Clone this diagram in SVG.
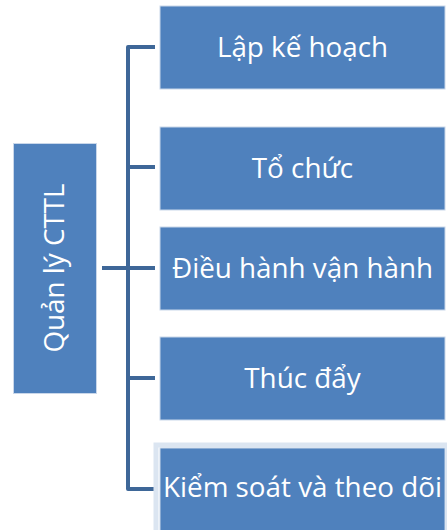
<svg xmlns="http://www.w3.org/2000/svg" width="447" height="530" viewBox="0 0 447 530">
<style>
.box{fill:#4f81bd;stroke:#c9d7ea;stroke-width:1}
.lbl{font-family:"Open Sans","Noto Sans","Liberation Sans",sans-serif;font-size:27.8px;fill:#ffffff;text-anchor:middle}
.con{fill:none;stroke:#3e6798;stroke-width:4;stroke-linejoin:round;stroke-linecap:butt}
</style>
<rect width="447" height="530" fill="#ffffff"/>
<g id="connectors">
<path class="con" d="M155,47 H128 V489 H155"/>
<path class="con" d="M128,167 H155"/>
<path class="con" d="M128,378 H155"/>
<path class="con" d="M102,268 H155"/>
</g>
<g id="root">
<rect class="box" x="13.5" y="143.5" width="83" height="250"/>
<text class="lbl" transform="translate(64,268) rotate(-90)">Quản lý CTTL</text>
</g>
<g id="n1">
<rect class="box" x="160" y="6" width="285" height="83"/>
<text class="lbl" x="302.5" y="57">Lập kế hoạch</text>
</g>
<g id="n2">
<rect class="box" x="160" y="127" width="285" height="83"/>
<text class="lbl" x="302.5" y="178">Tổ chức</text>
</g>
<g id="n3">
<rect class="box" x="160" y="227" width="285" height="83"/>
<text class="lbl" x="302.5" y="278">Điều hành vận hành</text>
</g>
<g id="n4">
<rect class="box" x="160" y="337" width="285" height="83"/>
<text class="lbl" x="302.5" y="388">Thúc đẩy</text>
</g>
<g id="n5">
<rect x="156" y="445" width="292" height="90" fill="none" stroke="#dbe5f1" stroke-width="5"/>
<rect class="box" x="160" y="448" width="285" height="83"/>
<text class="lbl" x="302.5" y="497">Kiểm soát và theo dõi</text>
</g>
</svg>
